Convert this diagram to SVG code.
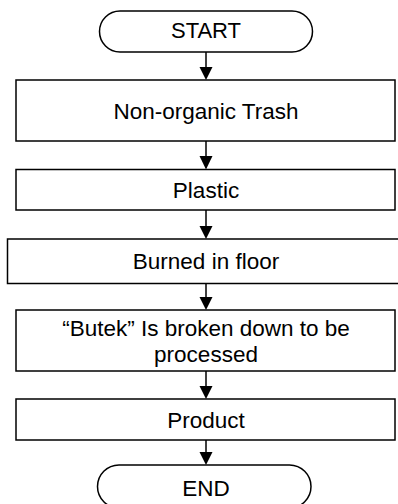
<svg xmlns="http://www.w3.org/2000/svg" width="398" height="504" viewBox="0 0 398 504">
<defs>
<style>
.s{fill:#fff;stroke:#000;stroke-width:1.5}
.t{font-family:"Liberation Sans",Arial,sans-serif;font-size:22.5px;fill:#000;text-anchor:middle}
.c{stroke:#000;stroke-width:1.5;fill:none}
.h{fill:#000;stroke:none}
</style>
</defs>
<rect width="398" height="504" fill="#fff"/>
<g id="connectors">
<line class="c" x1="206" y1="52" x2="206" y2="70"/><polygon class="h" points="199.5,67 212.5,67 206,80"/>
<line class="c" x1="206" y1="141" x2="206" y2="158"/><polygon class="h" points="199.5,156 212.5,156 206,169.5"/>
<line class="c" x1="206" y1="210" x2="206" y2="228"/><polygon class="h" points="199.5,226 212.5,226 206,239"/>
<line class="c" x1="206" y1="283.5" x2="206" y2="300"/><polygon class="h" points="199.5,297 212.5,297 206,310"/>
<line class="c" x1="206" y1="371" x2="206" y2="388"/><polygon class="h" points="199.5,386 212.5,386 206,399"/>
<line class="c" x1="206" y1="440" x2="206" y2="455"/><polygon class="h" points="199.5,452 212.5,452 206,465"/>
</g>
<g id="start">
<rect class="s" x="99.5" y="11" width="213" height="41" rx="20.5"/>
<text class="t" x="206" y="37.5" style="font-size:22px">START</text>
</g>
<g id="nonorganic">
<rect class="s" x="16" y="80" width="379" height="61"/>
<text class="t" x="206" y="118.5">Non-organic Trash</text>
</g>
<g id="plastic">
<rect class="s" x="16" y="169.5" width="379" height="40.5"/>
<text class="t" x="206" y="198">Plastic</text>
</g>
<g id="burned">
<rect class="s" x="7.5" y="239" width="397" height="44.5"/>
<text class="t" x="206" y="269">Burned in floor</text>
</g>
<g id="butek">
<rect class="s" x="16" y="310" width="379" height="61"/>
<text class="t" x="206" y="336">“Butek” Is broken down to be</text>
<text class="t" x="206" y="362">processed</text>
</g>
<g id="product">
<rect class="s" x="16" y="399" width="379" height="41"/>
<text class="t" x="206" y="428">Product</text>
</g>
<g id="end">
<rect class="s" x="97.5" y="465" width="213.5" height="43" rx="21.5"/>
<text class="t" x="206" y="496">END</text>
</g>
</svg>
